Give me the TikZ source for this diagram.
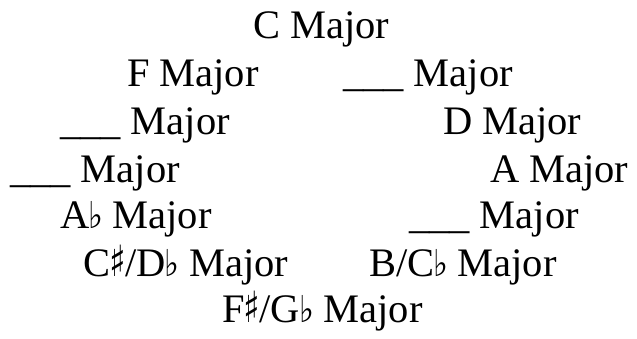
\documentclass[tikz,border=0pt]{standalone}
\usepackage{fontspec}
\usepackage{graphicx}
\setmainfont{Liberation Serif}
\newfontfamily\accfont{DejaVu Sans}
% accidentals taken from DejaVu Sans, narrowed a little
\newcommand{\flt}{\kern-1pt\scalebox{0.85}[1]{\accfont\fontsize{37}{37}\selectfont ♭}\kern-0.5pt}
\newcommand{\shp}{\kern-1pt\scalebox{0.8}[1]{\accfont\fontsize{43}{43}\selectfont ♯}\kern-0.5pt}
\newcommand{\blank}{\_\_\_}
\begin{document}
\begin{tikzpicture}[x=1pt,y=-1pt,
  key/.style={anchor=base west,inner sep=0pt,outer sep=0pt,
    font=\fontsize{40.5}{40.5}\selectfont}]
\useasboundingbox[fill=white] (0,0) rectangle (637,339);
\node[key] (c)   at (253,39)  {C Major};
\node[key] (f)   at (127,87)  {F Major};
\node[key] (g)   at (343,87)  {\blank{} Major};
\node[key] (bb)  at (60,135)  {\blank{} Major};
\node[key] (d)   at (443,135) {D Major};
\node[key] (eb)  at (10,183)  {\blank{} Major};
\node[key] (a)   at (490,183) {A Major};
\node[key] (ab)  at (60,229)  {A\flt{} Major};
\node[key] (e)   at (409,229) {\blank{} Major};
\node[key] (cs)  at (83,276)  {C\shp/D\flt{} Major};
\node[key] (b)   at (369,276) {B/C\flt{} Major};
\node[key] (fs)  at (222,322) {F\shp/G\flt{} Major};
\end{tikzpicture}
\end{document}
